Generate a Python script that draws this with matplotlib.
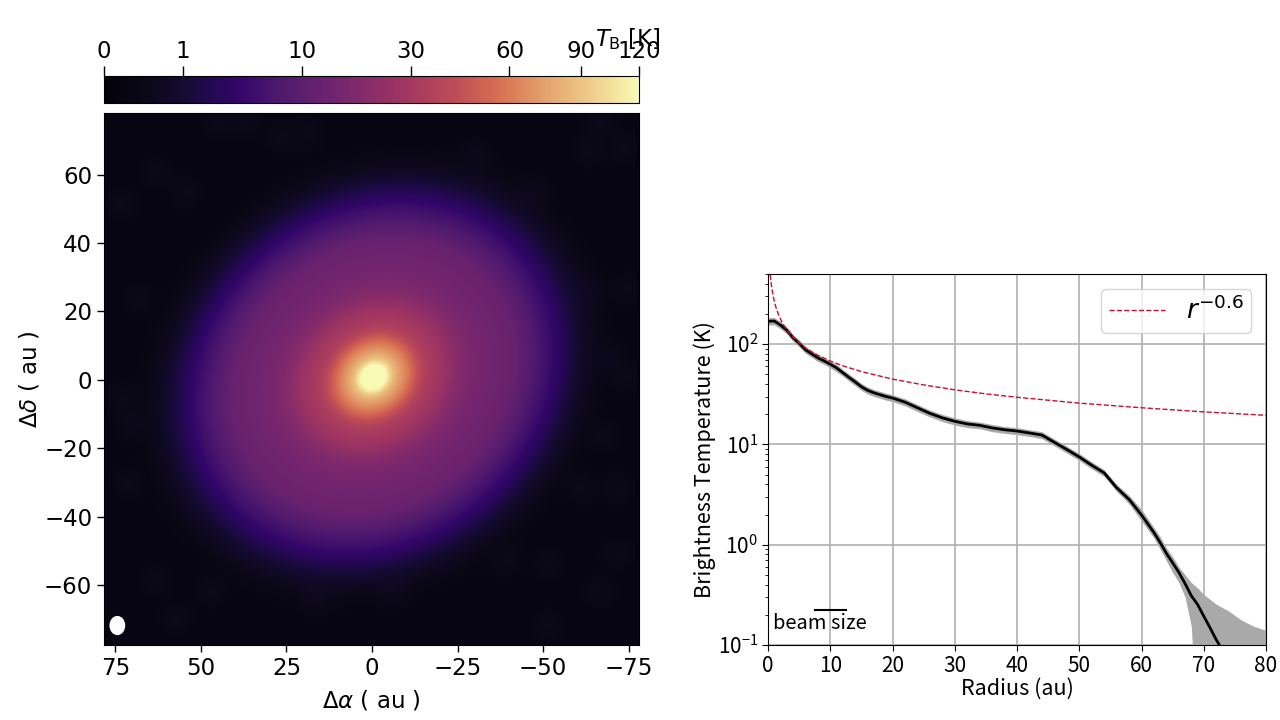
import numpy as np
import matplotlib
matplotlib.use("Agg")
import matplotlib.pyplot as plt
from matplotlib.colors import LinearSegmentedColormap, PowerNorm
from matplotlib.patches import Ellipse
from matplotlib.ticker import FixedLocator, FixedFormatter, LogLocator, NullFormatter

radius = [0, 1, 2, 3, 4, 5, 6, 7, 8, 9, 10, 11, 12, 13, 14, 15, 16, 17, 18, 19, 20, 22, 24, 26, 28, 30, 32, 34, 36, 38, 40,
          42, 44, 46, 48, 50, 52, 54, 56, 58, 60, 62, 63, 64, 65, 66, 67, 68, 69, 70, 71, 72, 74, 76, 78, 80]
temp = [169, 170, 155, 138, 116, 102, 88, 80, 73, 68, 63, 58, 52, 46.6, 42, 37.6, 34.6, 32.7, 31.3, 30, 29, 26.4, 23.2,
        20.4, 18.4, 17, 16, 15.5, 14.6, 14, 13.6, 13, 12.4, 10.5, 8.9, 7.5, 6.2, 5.2, 3.7, 2.83, 1.98, 1.32, 1.05,
        0.82, 0.66, 0.53, 0.41, 0.31, 0.254, 0.194, 0.149, 0.113, 0.07, 0.05, 0.04, 0.03]
temp_hi = [183, 184, 168, 149, 125, 110, 95, 86, 79, 73, 68, 63, 56, 50.3, 45.4, 40.6, 37.4, 35.3, 33.8, 32.4, 31.3,
           28.5, 25, 22, 19.9, 18.4, 17.3, 16.7, 15.8, 15.1, 14.7, 14, 13.4, 11.3, 9.6, 8.1, 6.7, 5.6, 4.0, 3.1, 2.25,
           1.48, 1.2, 0.93, 0.76, 0.6, 0.5, 0.42, 0.37, 0.32, 0.285, 0.255, 0.218, 0.178, 0.154, 0.14]
temp_lo = [155, 156, 142, 127, 107, 94, 81, 74, 67, 63, 58, 53, 48, 42.9, 38.6, 34.6, 31.8, 30.1, 28.8, 27.6, 26.7,
           24.3, 21.3, 18.8, 16.9, 15.6, 14.7, 14.3, 13.4, 12.9, 12.5, 12, 11.4, 9.7, 8.2, 6.9, 5.7, 4.8, 3.4, 2.55,
           1.72, 1.17, 0.9, 0.69, 0.53, 0.42, 0.30, 0.154, 0.01, 0.01, 0.01, 0.01, 0.01, 0.01, 0.01, 0.01]

model_r = [0.12, 0.15, 0.2, 0.25, 0.3, 0.35, 0.4, 0.5, 0.6, 0.75, 0.9, 1, 1.25, 1.5, 1.75, 2, 2.5, 3, 3.5, 4, 5, 6, 7, 8,
           10, 12, 15, 20, 25, 30, 35, 40, 50, 60, 70, 80]
model_t = [964, 843, 709, 614, 556, 507, 469, 409, 367, 321, 288, 270, 236, 212, 193, 178, 155, 140, 127, 117.5, 103,
           92, 84, 77.5, 67.8, 60.8, 53.2, 44.8, 39.2, 35, 31.9, 29.5, 25.8, 23.2, 21.1, 19.5]

cbar_ticks = [0, 1, 10, 30, 60, 90, 120]
map_xticks = [75, 50, 25, 0, -25, -50, -75]
map_yticks = [60, 40, 20, 0, -20, -40, -60]

# faint background patches (x, y in au)
patch_x = [62.8, 73.4, 68.4, 54.3, 45.2, 37.2, 27.1, 19, -30.3, -47.4, -66.6, -73.6, -63.5, -63.5, -74.6, -69.6, -74.6,
           -67.6, -61.5, -71.6, -71.6, -39.4, -51.5, 71.4, 63.3, 47.2, -6.1, -51.5, -66.6, 17, 57.3, 73.4, 70.4]
patch_y = [60.4, 51.4, 23.7, 54.9, 75, 75, 71, 72, 66, 54.9, 75, 68, 67, 26.7, 26.7, 6.5, 0.5,
           -16.6, -31.7, -31.7, -50.9, -52.9, -53.9, -30.2, -58.9, -61.9, -61.9, -72, -61.9, -64, -70, -5.5, -13]

colors = ["#04030c", "#0b0818", "#150b33", "#240852", "#33066a", "#4f1a6e", "#74256f", "#a03562",
          "#c04d56", "#d87052", "#e3a06a", "#efcb88", "#f9fbb4"]
stops = [0, 0.08, 0.15, 0.2, 0.25, 0.33, 0.44, 0.56, 0.66, 0.74, 0.82, 0.91, 1]
cmap = LinearSegmentedColormap.from_list("tb", list(zip(stops, colors)))
norm = PowerNorm(gamma=0.4, vmin=0, vmax=120)

W, H = 1280, 720
fig = plt.figure(figsize=(12.8, 7.2), dpi=100)
ax = fig.add_axes([104 / W, 1 - 645 / H, 535 / W, 532 / H])
cax = fig.add_axes([104 / W, 1 - 103 / H, 535 / W, 27 / H])
ax2 = fig.add_axes([768 / W, 1 - 645 / H, 498 / W, 371 / H])

# map: radial profile on a tilted ellipse
xs = np.linspace(78.3, -78, 500)
ys = np.linspace(-77.5, 78, 500)
X, Y = np.meshgrid(xs, ys)
pa = np.deg2rad(40)
dx, dy = X + 0.4, Y - 0.8
u = -dx * np.cos(pa) + dy * np.sin(pa)
v = dx * np.sin(pa) + dy * np.cos(pa)
R = np.hypot(u, v / 0.86)
Z = np.exp(np.interp(R, radius, np.log(temp)))
for px, py in zip(patch_x, patch_y):
    Z = Z + 0.22 * np.exp(-((X - px) ** 2 + (Y - py) ** 2) / (2 * 3.0 ** 2))
im = ax.imshow(Z, origin="lower", extent=[xs[0], xs[-1], ys[0], ys[-1]], cmap=cmap, norm=norm,
               aspect="auto", interpolation="bilinear")
ax.add_patch(Ellipse((74.4, -71.8), 4.2, 5.2, color="white", zorder=3))
ax.set_xticks(map_xticks)
ax.set_yticks(map_yticks)
ax.tick_params(labelsize=16.5, length=5, width=1)
ax.set_xlabel(r"$\Delta\alpha$ ( au )", fontsize=16.5, labelpad=6)
ax.set_ylabel(r"$\Delta\delta$ ( au )", fontsize=16.5, labelpad=2)

cb = fig.colorbar(im, cax=cax, orientation="horizontal")
cb.set_ticks(cbar_ticks)
cb.set_ticklabels([str(t) for t in cbar_ticks])
cax.xaxis.set_ticks_position("top")
cax.minorticks_off()
cax.tick_params(labelsize=16.5, length=7, width=1, pad=2)
cax.text(1.04, 2.35, r"$T_{\mathrm{B}}$ [K]", transform=cax.transAxes, ha="right", va="center", fontsize=16.5)

# profile
jp = ["Noto Sans CJK JP", "DejaVu Sans"]
ax2.set_axisbelow(True)
ax2.grid(True, which="major", color="#b0b0b0", lw=1.2)
ax2.fill_between(radius, temp_lo, temp_hi, color="#a9a9a9", lw=0, zorder=2)
ax2.plot(radius, temp, color="black", lw=2, zorder=3)
ax2.plot(model_r, model_t, color="#c8102e", ls="--", lw=1, zorder=4, label=r"$r^{-0.6}$")
ax2.plot([7.6, 12.5], [0.223, 0.223], color="black", lw=1.5, zorder=5)
ax2.text(0.8, 0.165, "beam size", family=jp, fontsize=14.5, va="center", ha="left", zorder=5)
ax2.set_yscale("log")
ax2.set_xlim(0, 80)
ax2.set_ylim(0.1, 500)
ax2.set_xticks(range(0, 90, 10))
ax2.set_xticklabels([str(t) for t in range(0, 90, 10)], family=jp, fontsize=15)
ax2.yaxis.set_major_locator(FixedLocator([0.1, 1, 10, 100]))
ax2.yaxis.set_major_formatter(FixedFormatter([r"$\mathregular{10^{-1}}$", r"$\mathregular{10^{0}}$",
                                              r"$\mathregular{10^{1}}$", r"$\mathregular{10^{2}}$"]))
ax2.yaxis.set_minor_locator(LogLocator(base=10, subs=np.arange(2, 10), numticks=12))
ax2.yaxis.set_minor_formatter(NullFormatter())
for lab in ax2.get_yticklabels():
    lab.set_family(jp)
    lab.set_fontsize(15)
ax2.tick_params(which="major", length=4, pad=3)
ax2.tick_params(which="minor", length=2)
ax2.set_xlabel("Radius (au)", family=jp, fontsize=15.5, labelpad=1)
ax2.set_ylabel("Brightness Temperature (K)", family=jp, fontsize=15.5, labelpad=1)
ax2.legend(loc="upper right", fontsize=19, handlelength=2.1, borderaxespad=0.55, borderpad=0.3)

fig.savefig("out.png", dpi=100)
